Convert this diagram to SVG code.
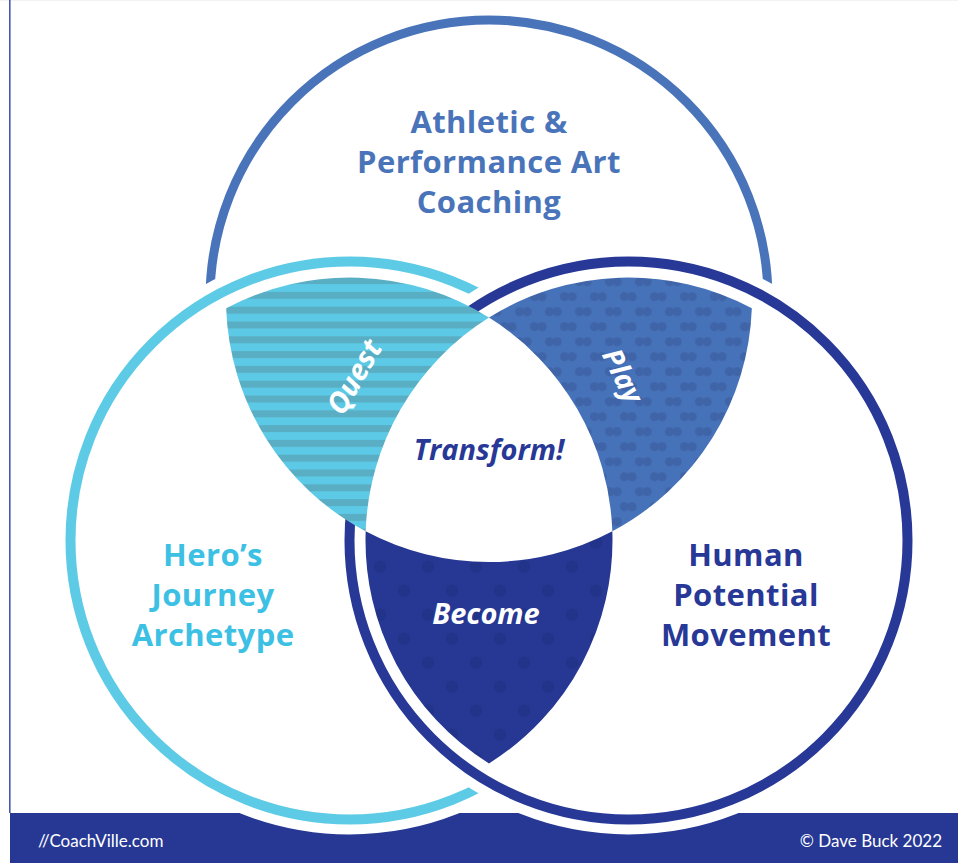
<svg xmlns="http://www.w3.org/2000/svg" width="958" height="863" viewBox="0 0 958 863">
<style>
.halo{fill:none;stroke:#ffffff;stroke-width:30}
.title{font-family:"Open Sans","Liberation Sans",sans-serif;font-weight:700;font-size:31px;letter-spacing:0.4px;text-anchor:middle}
.hand{font-family:"Open Sans","Liberation Sans",sans-serif;font-weight:700;font-style:italic;text-anchor:middle}
.foot{font-family:"Lato","Liberation Sans",sans-serif;font-size:17px;fill:#ffffff}
</style>
<defs>
<clipPath id="above"><rect x="0" y="0" width="958" height="813"/></clipPath>
<pattern id="stripes" patternUnits="userSpaceOnUse" x="0" y="306.7" width="20" height="14.8">
<rect x="0" y="0" width="20" height="14.8" fill="#5ccae6"/>
<rect x="0" y="0" width="20" height="7" fill="#5aaec4"/>
</pattern>
<pattern id="pairs" patternUnits="userSpaceOnUse" x="514.8" y="304.2" width="30" height="30">
<rect x="0" y="0" width="30" height="30" fill="#4672b9"/>
<g fill="#3f64a8">
<circle cx="4.7" cy="7.5" r="4.6"/><circle cx="12.3" cy="7.5" r="4.6"/>
<circle cx="19.7" cy="22.5" r="4.6"/><circle cx="27.3" cy="22.5" r="4.6"/><circle cx="-2.7" cy="22.5" r="4.6"/>
</g>
</pattern>
<pattern id="dots" patternUnits="userSpaceOnUse" x="368" y="554.7" width="48" height="48">
<rect x="0" y="0" width="48" height="48" fill="#263894"/>
<g fill="#22338a"><circle cx="12" cy="12" r="6.5"/><circle cx="36" cy="36" r="6.5"/></g>
</pattern>
</defs>
<rect x="0" y="0" width="958" height="863" fill="#ffffff"/>
<line x1="0" y1="0.5" x2="958" y2="0.5" stroke="#f2f2f2" stroke-width="1"/>
<line x1="9.8" y1="0" x2="9.8" y2="813" stroke="#4b55b5" stroke-width="1.6"/>
<g id="footer">
<rect x="10" y="813" width="948" height="50" fill="#263894"/>
</g>
<g id="circle-athletic">
<circle cx="489" cy="299" r="279" fill="none" stroke="#4a74ba" stroke-width="9"/>
</g>
<g id="circle-hero">
<circle cx="349.5" cy="540.5" r="279" fill="#ffffff" clip-path="url(#above)"/>
<circle cx="349.5" cy="540.5" r="279" class="halo"/>
<circle cx="349.5" cy="540.5" r="279" fill="none" stroke="#5ecbe6" stroke-width="10"/>
</g>
<g id="circle-human">
<circle cx="628.5" cy="540.5" r="279" fill="#ffffff" clip-path="url(#above)"/>
<circle cx="628.5" cy="540.5" r="279" class="halo"/>
<circle cx="628.5" cy="540.5" r="279" fill="none" stroke="#273896" stroke-width="10"/>
</g>
<g id="region-quest">
<path d="M226.16 308.21 A263 263 0 0 1 489 317.55 A263 263 0 0 0 365.66 531.29 A263 263 0 0 1 226.16 308.21 Z" fill="url(#stripes)"/>
<text class="hand" x="0" y="0" font-size="29" fill="#ffffff" transform="translate(363 382) rotate(-60)">Quest</text>
</g>
<g id="region-play">
<path d="M489 317.55 A263 263 0 0 1 751.84 308.21 A263 263 0 0 1 612.34 531.29 A263 263 0 0 0 489 317.55 Z" fill="url(#pairs)"/>
<text class="hand" x="0" y="0" font-size="28" fill="#ffffff" transform="translate(614 380) rotate(64)">Play</text>
</g>
<g id="region-become">
<path d="M365.66 531.29 A263 263 0 0 0 612.34 531.29 A263 263 0 0 1 489 763.45 A263 263 0 0 1 365.66 531.29 Z" fill="url(#dots)"/>
<text class="hand" x="486" y="624" font-size="29" fill="#ffffff">Become</text>
</g>
<g id="region-transform">
<text class="hand" x="489" y="460" font-size="29" fill="#273896">Transform!</text>
</g>
<g id="label-athletic" class="title" fill="#4a74ba">
<text x="489" y="133">Athletic &amp;</text>
<text x="489" y="173">Performance Art</text>
<text x="489" y="213">Coaching</text>
</g>
<g id="label-hero" class="title" fill="#3cc0e3">
<text x="213" y="566">Hero’s</text>
<text x="213" y="606">Journey</text>
<text x="213" y="646">Archetype</text>
</g>
<g id="label-human" class="title" fill="#273896">
<text x="746" y="566">Human</text>
<text x="746" y="606">Potential</text>
<text x="746" y="646">Movement</text>
</g>
<g id="footer-text">
<text class="foot" x="38" y="847">//CoachVille.com</text>
<text class="foot" x="942" y="847" text-anchor="end">© Dave Buck 2022</text>
</g>
<g id="connectors"/>
</svg>
